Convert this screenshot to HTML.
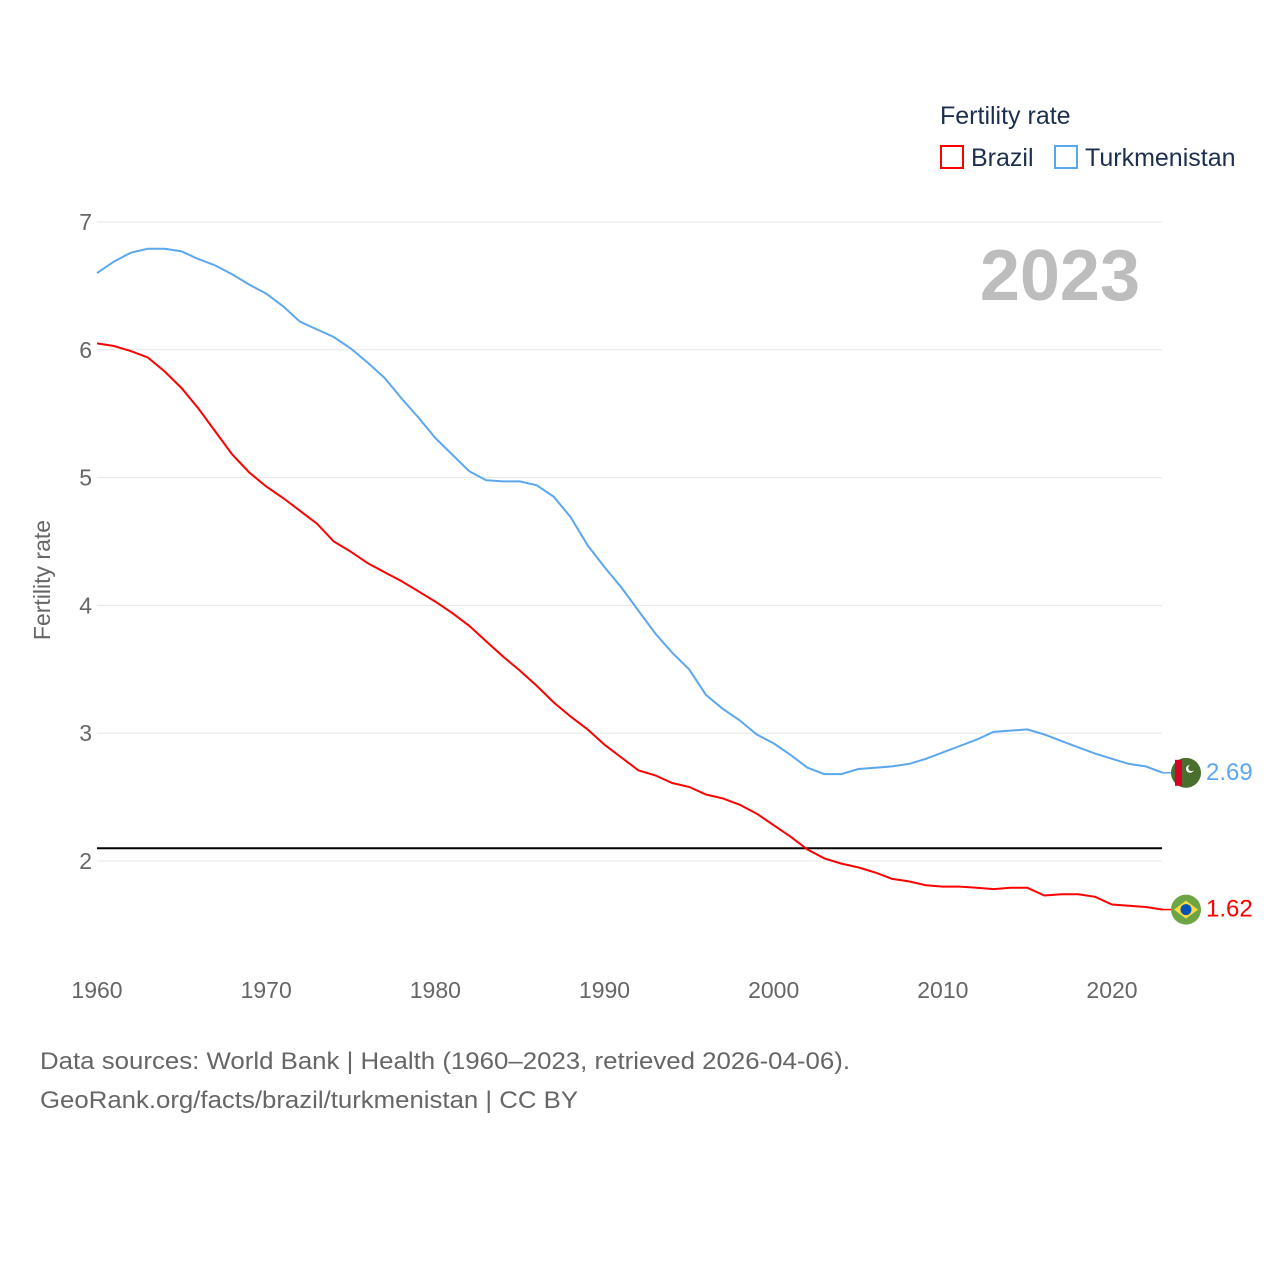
<!DOCTYPE html>
<html><head><meta charset="utf-8"><style>
html,body{margin:0;padding:0;background:#fff;}
body{width:1280px;height:1280px;position:relative;overflow:hidden;font-family:"Liberation Sans",sans-serif;}
</style></head><body>
<svg id="chart" width="1280" height="1280" xmlns="http://www.w3.org/2000/svg" style="position:absolute;left:0;top:0">
<text x="940" y="124" font-size="25" fill="#1d2f4f">Fertility rate</text>
<g><rect x="941" y="146" width="22" height="22" fill="none" stroke="#f00" stroke-width="2"/><text x="971" y="166" font-size="25" fill="#1d2f4f">Brazil</text></g>
<g><rect x="1055" y="146" width="22" height="22" fill="none" stroke="#5ba7ee" stroke-width="2"/><text x="1085" y="166" font-size="25" fill="#1d2f4f">Turkmenistan</text></g>
<text x="1140" y="300" font-size="72" font-weight="bold" fill="#bdbdbd" text-anchor="end">2023</text>
<text transform="translate(50,580) rotate(-90)" font-size="23" fill="#666" text-anchor="middle">Fertility rate</text>
<g id="grid"></g><g id="marks"></g>
<text x="40" y="1069" font-size="24" fill="#666" textLength="810" lengthAdjust="spacingAndGlyphs">Data sources: World Bank | Health (1960–2023, retrieved 2026-04-06).</text>
<text x="40" y="1108" font-size="24" fill="#666" textLength="538" lengthAdjust="spacingAndGlyphs">GeoRank.org/facts/brazil/turkmenistan | CC BY</text>
</svg>
<script>
const years=[];for(let y=1960;y<=2023;y++)years.push(y);
const brazil=[6.05,6.03,5.99,5.94,5.83,5.70,5.54,5.36,5.18,5.04,4.93,4.84,4.74,4.64,4.50,4.42,4.33,4.26,4.19,4.11,4.03,3.94,3.84,3.72,3.60,3.49,3.37,3.24,3.13,3.03,2.91,2.81,2.71,2.67,2.61,2.58,2.52,2.49,2.44,2.37,2.28,2.19,2.09,2.02,1.98,1.95,1.91,1.86,1.84,1.81,1.80,1.80,1.79,1.78,1.79,1.79,1.73,1.74,1.74,1.72,1.66,1.65,1.64,1.62];
const turkmenistan=[6.60,6.69,6.76,6.79,6.79,6.77,6.71,6.66,6.59,6.51,6.44,6.34,6.22,6.16,6.10,6.01,5.90,5.78,5.62,5.47,5.31,5.18,5.05,4.98,4.97,4.97,4.94,4.85,4.69,4.47,4.30,4.14,3.96,3.78,3.63,3.50,3.30,3.19,3.10,2.99,2.92,2.83,2.73,2.68,2.68,2.72,2.73,2.74,2.76,2.80,2.85,2.90,2.95,3.01,3.02,3.03,2.99,2.94,2.89,2.84,2.80,2.76,2.74,2.69];
const yTicks=[2,3,4,5,6,7];
const xTicks=[1960,1970,1980,1990,2000,2010,2020];
const replacement=[2.1];
const X=y=>97+(y-1960)*(1112-97)/60;
const Y=v=>861-(v-2)*127.8;
const NS="http://www.w3.org/2000/svg";
const grid=document.getElementById('grid'),marks=document.getElementById('marks');
function mk(t,a,p){const e=document.createElementNS(NS,t);for(const k in a)e.setAttribute(k,a[k]);p.appendChild(e);return e;}
yTicks.forEach(v=>{
 const l=mk('line',{x1:97,x2:1162,y1:Y(v),y2:Y(v),stroke:'#e6e6e6','stroke-width':1},grid);
 
 
 const t=mk('text',{x:92,y:Y(v)+8,'font-size':23,fill:'#666','text-anchor':'end'},grid);t.textContent=v;
 
 
});
xTicks.forEach(v=>{
 const t=mk('text',{x:X(v),y:998,'font-size':23,fill:'#666','text-anchor':'middle'},grid);t.textContent=v;
 
 
});
replacement.forEach(v=>{
 const l=mk('line',{x1:97,x2:1162,y1:Y(v),y2:Y(v),stroke:'#000','stroke-width':2},marks);
 
 
});
function series(vals,col,name,flag){
 const d=vals.map((v,i)=>(i?'L':'M')+X(years[i]).toFixed(1)+','+Y(v).toFixed(1)).join(' ');
 const p=mk('path',{d:d,fill:'none',stroke:col,'stroke-width':2},marks);
 
 
 const last=vals[vals.length-1],cx=1186,cy=Y(last);
 const g=mk('g',{},marks);
 
 
 mk('line',{x1:X(2023),x2:cx-15,y1:cy,y2:cy,stroke:col,'stroke-width':1.5},g);
 if(flag==='br'){mk('circle',{cx:cx,cy:cy,r:15,fill:'#6da544'},g);mk('polygon',{points:`${cx-12},${cy} ${cx},${cy-9} ${cx+12},${cy} ${cx},${cy+9}`,fill:'#ffda44'},g);mk('circle',{cx:cx,cy:cy,r:5.5,fill:'#0052b4'},g);}
 else{mk('circle',{cx:cx,cy:cy,r:15,fill:'#496e2d'},g);mk('rect',{x:cx-11,y:cy-13,width:7,height:26,fill:'#d80027'},g);mk('circle',{cx:cx+4,cy:cy-4,r:4,fill:'#fff'},g);mk('circle',{cx:cx+5.5,cy:cy-5,r:3.3,fill:'#496e2d'},g);}
 const t=mk('text',{x:1206,y:cy+7,'font-size':24,fill:col},marks);t.textContent=last.toFixed(2);
 
 
}
series(turkmenistan,'#5ba7ee','turkmenistan','tm');
series(brazil,'#ff0000','brazil','br');
</script>
</body></html>
